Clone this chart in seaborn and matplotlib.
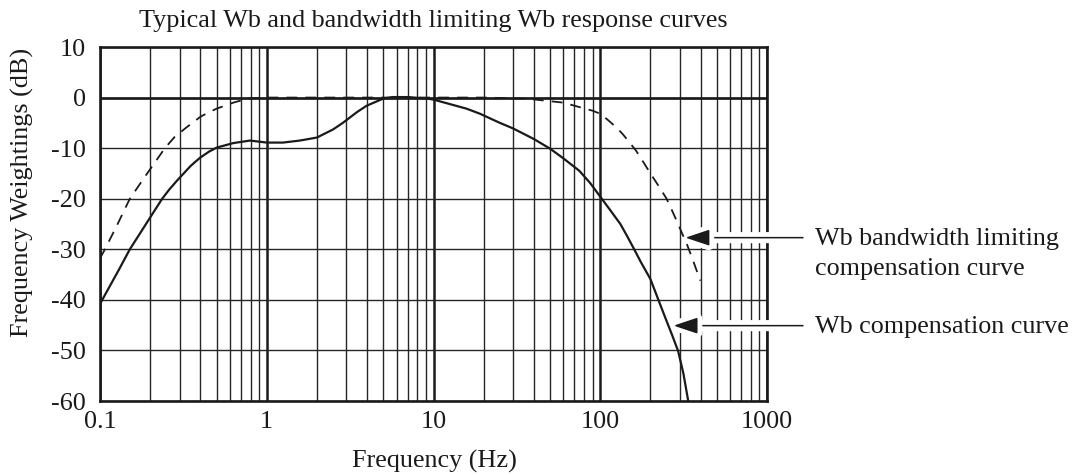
import numpy as np
import pandas as pd
import matplotlib
matplotlib.use("Agg")
import matplotlib.pyplot as plt
import matplotlib.ticker as mticker
import matplotlib.patheffects as pe
import seaborn as sns

# ---- data ----
wb_freq = [0.1, 0.13, 0.151, 0.2, 0.236, 0.26, 0.29, 0.35, 0.398, 0.45, 0.5, 0.63, 0.794,
           1.0, 1.25, 1.58, 2.0, 2.5, 2.86, 3.5, 3.98, 5.0, 5.7, 7.0, 9.2, 10, 15.8, 19, 25,
           30, 40, 50, 60, 75, 87, 100, 115, 132, 145, 158, 175, 200, 222, 250, 270, 293, 315,
           337]
wb_db = [-40.8, -34.0, -30.0, -23.7, -20.0, -18.2, -16.4, -13.5, -11.9, -10.7, -9.9, -9.0, -8.5,
         -8.9, -8.9, -8.5, -7.9, -6.3, -5.0, -2.8, -1.6, -0.2, 0.1, 0.1, -0.2, -0.4, -2.2, -3.2,
         -5.0, -6.1, -8.2, -10.1, -12.0, -14.5, -16.9, -19.6, -22.3, -25.0, -27.4, -29.7, -32.5,
         -35.9, -39.8, -44.2, -47.0, -50.1, -54.5, -60.0]

bl_freq = [0.1, 0.107, 0.125, 0.151, 0.19, 0.245, 0.28, 0.33, 0.4, 0.45, 0.5, 0.63, 0.77, 1.0,
           2.0, 5.0, 10, 20, 36, 60, 90, 100, 110, 125, 137, 150, 164, 180, 200, 225, 250, 270,
           293, 310, 330, 360, 398]
bl_db = [-31.8, -30.0, -25.6, -20.0, -15.2, -10.0, -7.8, -5.9, -3.8, -2.9, -2.2, -1.0, -0.2, 0.0,
         0.0, 0.0, 0.0, 0.0, -0.2, -1.0, -2.6, -3.2, -4.3, -5.9, -7.3, -8.9, -10.5, -12.6, -15.0,
         -17.6, -20.0, -22.4, -25.0, -26.9, -28.9, -32.2, -36.2]

x_ticks = [0.1, 1, 10, 100, 1000]
x_tick_labels = ["0.1", "1", "10", "100", "1000"]
y_ticks = [10, 0, -10, -20, -30, -40, -50, -60]
y_tick_labels = ["10", "0", "-10", "-20", "-30", "-40", "-50", "-60"]

title = "Typical Wb and bandwidth limiting Wb response curves"
x_label = "Frequency (Hz)"
y_label = "Frequency Weightings (dB)"
label_bl = ["Wb bandwidth limiting", "compensation curve"]
label_wb = "Wb compensation curve"

# ---- style ----
sns.set_theme(style="white")
plt.rcParams["font.family"] = ["Liberation Serif", "DejaVu Serif"]
plt.rcParams["axes.unicode_minus"] = False
FS = 18.8
INK = "#1a1a1a"

W, H = 1086, 475
fig = plt.figure(figsize=(W / 100, H / 100), dpi=100)
L, R, T, B = 100, 767, 47, 401
ax = fig.add_axes([L / W, 1 - B / H, (R - L) / W, (B - T) / H])

def px(x, y):
    return x / W, 1 - y / H

df_wb = pd.DataFrame({"f": wb_freq, "db": wb_db})
df_bl = pd.DataFrame({"f": bl_freq, "db": bl_db})

sns.lineplot(data=df_wb, x="f", y="db", ax=ax, color=INK, lw=1.6,
             estimator=None, sort=False, zorder=5)
sns.lineplot(data=df_bl, x="f", y="db", ax=ax, color=INK, lw=1.3,
             estimator=None, sort=False, zorder=5)
ax.lines[-1].set_dashes([6, 4.5])

ax.set_xscale("log")
ax.set_xlim(0.1, 1000)
ax.set_ylim(-60, 10)

ax.xaxis.set_major_locator(mticker.FixedLocator(x_ticks))
ax.xaxis.set_major_formatter(mticker.FixedFormatter(x_tick_labels))
ax.xaxis.set_minor_locator(mticker.LogLocator(base=10, subs=np.arange(2, 10), numticks=20))
ax.xaxis.set_minor_formatter(mticker.NullFormatter())
ax.yaxis.set_major_locator(mticker.FixedLocator(y_ticks))
ax.yaxis.set_major_formatter(mticker.FixedFormatter(y_tick_labels))

ax.set_axisbelow(True)
ax.grid(which="major", axis="x", color=INK, lw=1.8)
ax.grid(which="minor", axis="x", color="#262626", lw=1.0)
ax.grid(which="major", axis="y", color="#262626", lw=1.0)
ax.axhline(0, color=INK, lw=1.9, zorder=6)

ax.tick_params(axis="both", which="both", length=0, labelsize=FS, colors=INK)
ax.tick_params(axis="x", pad=7)
ax.tick_params(axis="y", pad=10)
for s in ax.spines.values():
    s.set_color(INK)
    s.set_linewidth(1.9)

ax.set_xlabel("")
ax.set_ylabel("")

fig.text(*px(433, 27), title, ha="center", va="baseline", fontsize=FS, color=INK)
fig.text(*px(434, 468), x_label, ha="center", va="baseline", fontsize=FS, color=INK)
fig.text(*px(22, 192), y_label, ha="center", va="center", rotation=90, fontsize=FS, color=INK)

# arrows with labels
tail_f = 0.1 * 10 ** ((803 - L) / ((R - L) / 4))
for (tip_f, tip_db) in [(324, -27.7), (275, -45.1)]:
    ax.annotate("", xy=(tip_f, tip_db), xytext=(tail_f, tip_db),
                arrowprops=dict(arrowstyle="-|>,head_length=0.6,head_width=0.2",
                                lw=1.1, color=INK, mutation_scale=25,
                                shrinkA=0, shrinkB=0,
                                path_effects=[pe.withStroke(linewidth=8, foreground="white")]),
                annotation_clip=False, zorder=3)

fig.text(*px(815, 245), label_bl[0], ha="left", va="baseline", fontsize=FS, color=INK)
fig.text(*px(815, 275), label_bl[1], ha="left", va="baseline", fontsize=FS, color=INK)
fig.text(*px(815, 333), label_wb, ha="left", va="baseline", fontsize=FS, color=INK)

fig.savefig("out.png", dpi=100, facecolor="white")
